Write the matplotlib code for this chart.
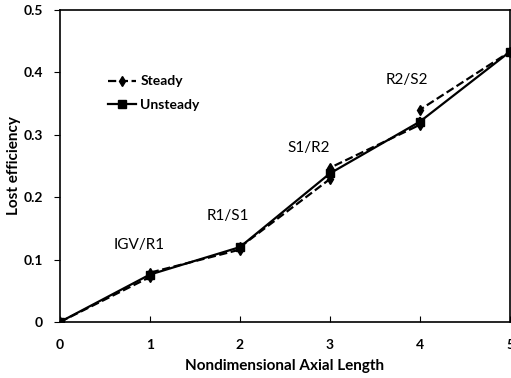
import matplotlib.pyplot as plt

# data
steady_x = [0, 1, 1, 2, 2, 3, 3, 4, 4, 5]
steady_y = [0, 0.072, 0.079, 0.116, 0.120, 0.229, 0.247, 0.316, 0.340, 0.433]
unsteady_x = [0, 1, 2, 3, 4, 5]
unsteady_y = [0, 0.076, 0.120, 0.238, 0.321, 0.433]

labels = ["IGV/R1", "R1/S1", "S1/R2", "R2/S2"]
label_x = [0.88, 1.87, 2.76, 3.86]
label_y = [0.123, 0.170, 0.279, 0.388]

plt.rcParams['font.family'] = ['Lato', 'DejaVu Sans']

fig = plt.figure(figsize=(5.11, 3.78), dpi=100)
ax = fig.add_axes([0.117, 0.148, 0.881, 0.826])

ax.plot(steady_x, steady_y, '--', color='black', lw=1.6, marker='d',
        markersize=5, label='Steady')
ax.plot(unsteady_x, unsteady_y, '-', color='black', lw=1.6, marker='s',
        markersize=6, label='Unsteady')

for t, x, y in zip(labels, label_x, label_y):
    ax.text(x, y, t, ha='center', va='center', fontsize=11)

ax.set_xlim(0, 5)
ax.set_ylim(0, 0.5)
ax.set_xticks([0, 1, 2, 3, 4, 5])
ax.set_yticks([0, 0.1, 0.2, 0.3, 0.4, 0.5])
ax.set_yticklabels(['0', '0.1', '0.2', '0.3', '0.4', '0.5'])
ax.tick_params(axis='x', direction='in', length=4, pad=12, labelsize=10)
ax.tick_params(axis='y', direction='out', length=4, pad=8, labelsize=10)
for lab in ax.get_xticklabels() + ax.get_yticklabels():
    lab.set_fontweight('bold')
for s in ax.spines.values():
    s.set_linewidth(1.2)

ax.set_xlabel('Nondimensional Axial Length', fontsize=11, fontweight='bold', labelpad=6)
ax.set_ylabel('Lost efficiency', fontsize=11, fontweight='bold', labelpad=2)

ax.legend(loc='upper left', bbox_to_anchor=(0.08, 0.83), frameon=False,
          handlelength=2.0, handletextpad=0.3, labelspacing=0.8,
          prop={'weight': 'bold', 'size': 10})

fig.savefig('out.png', dpi=100)
